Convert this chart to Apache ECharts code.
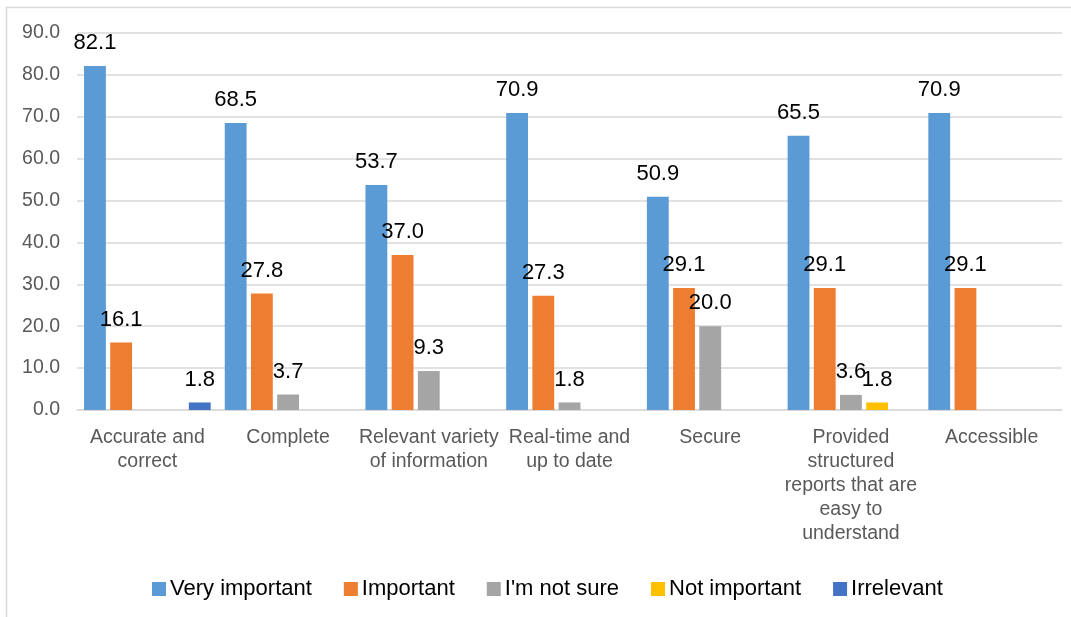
<!DOCTYPE html>
<html>
<head>
<meta charset="utf-8">
<script src="https://cdn.jsdelivr.net/npm/echarts@6/dist/echarts.min.js"></script>
<style>
  html, body { margin: 0; padding: 0; background: #ffffff; }
  #chart { width: 1071px; height: 617px; }
</style>
</head>
<body>
<div id="chart"></div>
<script>
// Survey: importance of data qualities (% of respondents)
const categories = [
  'Accurate and\ncorrect',
  'Complete',
  'Relevant variety\nof information',
  'Real-time and\nup to date',
  'Secure',
  'Provided\nstructured\nreports that are\neasy to\nunderstand',
  'Accessible'
];
const seriesNames = ['Very important', 'Important', "I'm not sure", 'Not important', 'Irrelevant'];
const veryImportant = [82.1, 68.5, 53.7, 70.9, 50.9, 65.5, 70.9];
const important     = [16.1, 27.8, 37.0, 27.3, 29.1, 29.1, 29.1];
const notSure       = [null, 3.7, 9.3, 1.8, 20.0, 3.6, null];
const notImportant  = [null, null, null, null, null, 1.8, null];
const irrelevant    = [1.8, null, null, null, null, null, null];
const yTicks = { min: 0, max: 90, interval: 10 };

const colors = ['#5B9BD5', '#ED7D31', '#A5A5A5', '#FFC000', '#4472C4'];
const values = [veryImportant, important, notSure, notImportant, irrelevant];
const FONT = '"Liberation Sans", Arial, sans-serif';

const chart = echarts.init(document.getElementById('chart'), null, { renderer: 'canvas' });

chart.setOption({
  animation: false,
  backgroundColor: '#ffffff',
  color: colors,
  graphic: [{
    type: 'rect',
    shape: { x: 6.5, y: 7.5, width: 1080, height: 640 },
    style: { fill: 'none', stroke: '#d9d9d9', lineWidth: 1.5 },
    silent: true
  }],
  grid: { left: 77, right: 9, top: 33, bottom: 207, containLabel: false },
  legend: {
    data: seriesNames,
    top: 573,
    left: 147,
    itemWidth: 14,
    itemHeight: 14,
    itemGap: 32,
    icon: 'rect',
    textStyle: { fontFamily: FONT, fontSize: 22, color: '#000000', padding: [0, 0, 0, -1] }
  },
  xAxis: {
    type: 'category',
    data: categories,
    axisLine: { show: true, lineStyle: { color: '#d9d9d9', width: 1.5 } },
    axisTick: { show: false },
    axisLabel: {
      interval: 0,
      margin: 16,
      fontFamily: FONT,
      fontSize: 19.5,
      lineHeight: 24,
      color: '#595959'
    }
  },
  yAxis: {
    type: 'value',
    min: yTicks.min,
    max: yTicks.max,
    interval: yTicks.interval,
    axisLine: { show: false },
    axisTick: { show: false },
    splitLine: { lineStyle: { color: '#d9d9d9', width: 1.5 } },
    axisLabel: {
      margin: 17,
      fontFamily: FONT,
      fontSize: 19.5,
      color: '#595959',
      formatter: v => v.toFixed(1)
    }
  },
  series: seriesNames.map((name, i) => ({
    name: name,
    type: 'bar',
    data: values[i],
    barGap: '20%',
    barCategoryGap: '10%',
    itemStyle: { color: colors[i] },
    label: {
      show: true,
      position: 'top',
      distance: 12,
      fontFamily: FONT,
      fontSize: 22,
      color: '#000000',
      formatter: p => (p.value == null ? '' : Number(p.value).toFixed(1))
    }
  }))
});
</script>
</body>
</html>
